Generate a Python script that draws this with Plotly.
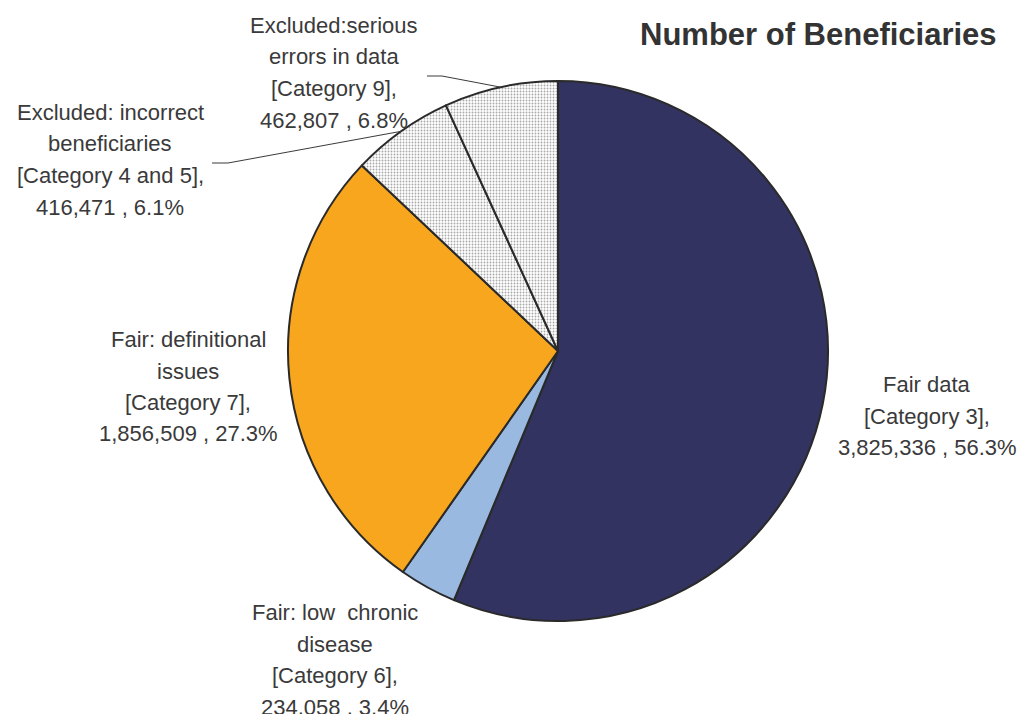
import math
import plotly.graph_objects as go

# Slices in drawing order, clockwise from 12 o'clock
names = [
    ["Fair data", "[Category 3],"],
    ["Fair: low  chronic", "disease", "[Category 6],"],
    ["Fair: definitional", "issues", "[Category 7],"],
    ["Excluded: incorrect", "beneficiaries", "[Category 4 and 5],"],
    ["Excluded:serious", "errors in data", "[Category 9],"],
]
values = [3825336, 234058, 1856509, 416471, 462807]
colors = ["#333362", "#99B9E0", "#F7A61E", "#FFFFFF", "#FFFFFF"]
dotted = [False, False, False, True, True]
title = "Number of Beneficiaries"

W, H = 1023, 714
CX, CY, R = 558, 351, 270          # pie centre and radius, px

# label block placement: centre x, first baseline (px)
label_pos = [(927, 392), (335, 620), (188, 347), (110, 120), (334, 33)]
LINE_GAP = 31.5
# leader lines for the small excluded slices: (start x, elbow x, y)
leaders = {3: (212, 228, 163), 4: (427, 442, 76)}


def px(x):
    return x / W


def py(y):
    return 1 - y / H


total = sum(values)
fig = go.Figure()
fig.add_trace(go.Pie(
    labels=[n[0] for n in names],
    values=values,
    sort=False,
    direction="clockwise",
    rotation=0,
    textinfo="none",
    hoverinfo="label+value+percent",
    showlegend=False,
    marker=dict(
        colors=colors,
        line=dict(color="#2A2A2A", width=2),
        pattern=dict(
            shape=["." if d else "" for d in dotted],
            fgcolor="#A8A8A8",
            bgcolor="#FFFFFF",
            size=3,
            solidity=0.3,
        ),
    ),
    domain=dict(x=[px(CX - R), px(CX + R)], y=[py(CY + R), py(CY - R)]),
))

font = dict(family="Liberation Sans, Arial, sans-serif", size=22, color="#3A3A3A")
annotations = []
shapes = []
start = 0.0
for i, (lines, v) in enumerate(zip(names, values)):
    pct = v / total * 100
    all_lines = lines + [f"{v:,} , {pct:.1f}%"]
    cx, base = label_pos[i]
    for k, t in enumerate(all_lines):
        b = base + k * LINE_GAP
        annotations.append(dict(
            text=t, x=px(cx), y=py(b - 7.5), xref="paper", yref="paper",
            xanchor="center", yanchor="middle", showarrow=False, font=font,
        ))
    mid = (start + v / 2) / total * 2 * math.pi
    start += v
    if i in leaders:
        x0, x1, ly = leaders[i]
        ex = CX + R * math.sin(mid)
        ey = CY - R * math.cos(mid)
        shapes.append(dict(
            type="path", xref="paper", yref="paper",
            path=f"M {px(x0)},{py(ly)} L {px(x1)},{py(ly)} L {px(ex)},{py(ey)}",
            line=dict(color="#3A3A3A", width=1),
        ))

annotations.append(dict(
    text=f"<b>{title}</b>", x=px(818), y=py(34), xref="paper", yref="paper",
    xanchor="center", yanchor="middle", showarrow=False,
    font=dict(family="Liberation Sans, Arial, sans-serif", size=31, color="#333333"),
))

fig.update_layout(
    width=W, height=H,
    margin=dict(l=0, r=0, t=0, b=0),
    paper_bgcolor="white",
    plot_bgcolor="white",
    annotations=annotations,
    shapes=shapes,
)
fig.write_html("out.html")
